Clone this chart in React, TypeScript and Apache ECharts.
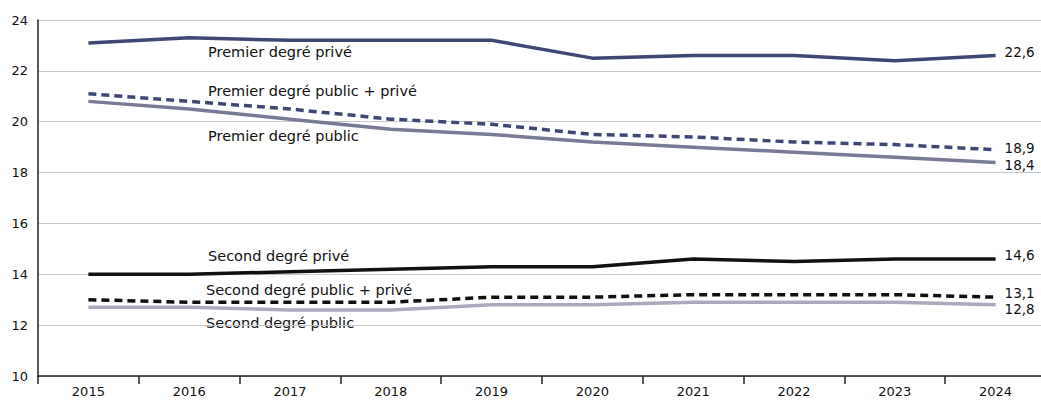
import React, { useEffect, useRef } from "react";
import * as echarts from "echarts";

const years = ["2015", "2016", "2017", "2018", "2019", "2020", "2021", "2022", "2023", "2024"];
const premierPrive = [23.1, 23.3, 23.2, 23.2, 23.2, 22.5, 22.6, 22.6, 22.4, 22.6];
const premierTotal = [21.1, 20.8, 20.5, 20.1, 19.9, 19.5, 19.4, 19.2, 19.1, 18.9];
const premierPublic = [20.8, 20.5, 20.1, 19.7, 19.5, 19.2, 19.0, 18.8, 18.6, 18.4];
const secondPrive = [14.0, 14.0, 14.1, 14.2, 14.3, 14.3, 14.6, 14.5, 14.6, 14.6];
const secondTotal = [13.0, 12.9, 12.9, 12.9, 13.1, 13.1, 13.2, 13.2, 13.2, 13.1];
const secondPublic = [12.7, 12.7, 12.6, 12.6, 12.8, 12.8, 12.9, 12.9, 12.9, 12.8];

const FONT = "'DejaVu Sans', 'Open Sans', sans-serif";

export default function App() {
  const ref = useRef<HTMLDivElement>(null);
  useEffect(() => {
    document.body.style.margin = "0";
    document.body.style.overflow = "hidden";
    const chart = echarts.init(ref.current!, null, { renderer: "svg" });
    const fmt = (p: any) => String(p.value).replace(".", ",");
    const mk = (name: string, data: number[], color: string, dashed: boolean, dy: number, z: number) => ({
      name,
      type: "line",
      data,
      symbol: "none",
      z,
      lineStyle: { color, width: 3.5, type: dashed ? [8, 5] : "solid" },
      endLabel: {
        show: true,
        formatter: fmt,
        color: "#111",
        fontFamily: FONT,
        fontSize: 13.5,
        distance: 9,
        offset: [0, dy],
      },
    });
    const txt = (s: string, left: number, top: number) => ({
      type: "text",
      left,
      top,
      style: { text: s, fill: "#111", font: `14.5px ${FONT}` },
    });
    chart.setOption({
      animation: false,
      grid: { left: 38, right: 0, top: 20, bottom: 26 },
      xAxis: {
        type: "category",
        data: years,
        boundaryGap: true,
        axisLine: { lineStyle: { color: "#222", width: 1.5 } },
        axisTick: { show: true, length: 8, lineStyle: { color: "#222", width: 1.5 } },
        axisLabel: { color: "#111", fontFamily: FONT, fontSize: 13, margin: 9 },
        splitLine: { show: false },
      },
      yAxis: {
        type: "value",
        min: 10,
        max: 24,
        interval: 2,
        axisLine: { show: true, lineStyle: { color: "#222", width: 1.5 } },
        axisTick: { show: false },
        axisLabel: { color: "#111", fontFamily: FONT, fontSize: 13, margin: 10 },
        splitLine: { lineStyle: { color: "#c8c8c8", width: 1.2 } },
      },
      series: [
        mk("Premier degré privé", premierPrive, "#3f4875", false, -4, 3),
        mk("Premier degré public", premierPublic, "#787a96", false, 3, 2),
        mk("Premier degré public + privé", premierTotal, "#3f4875", true, -2, 4),
        mk("Second degré privé", secondPrive, "#111111", false, -4, 3),
        mk("Second degré public", secondPublic, "#a9abbd", false, 4, 2),
        mk("Second degré public + privé", secondTotal, "#111111", true, -4, 4),
      ],
      graphic: [
        txt("Premier degré privé", 208, 44),
        txt("Premier degré public + privé", 208, 83),
        txt("Premier degré public", 208, 128),
        txt("Second degré privé", 208, 248),
        txt("Second degré public + privé", 206, 282),
        txt("Second degré public", 206, 315),
      ],
    });
    return () => chart.dispose();
  }, []);
  return <div ref={ref} style={{ width: 1046, height: 402 }} />;
}
